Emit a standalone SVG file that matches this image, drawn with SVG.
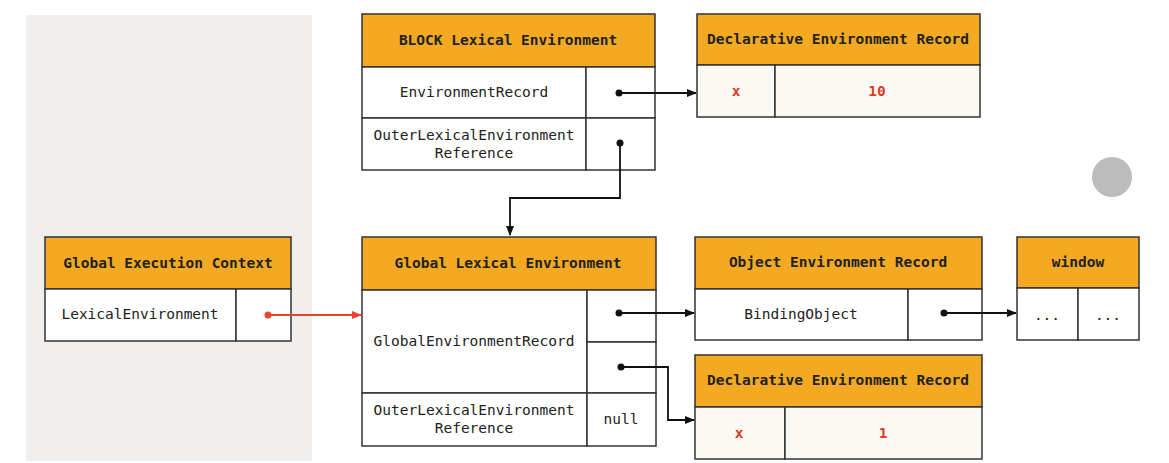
<svg xmlns="http://www.w3.org/2000/svg" width="1169" height="463" viewBox="0 0 1169 463">
<defs>
<style>
.hd{fill:#f3a922;stroke:#333;stroke-width:1.5}
.cell{fill:#fff;stroke:#333;stroke-width:1.5}
.cellc{fill:#fbf9f4;stroke:#333;stroke-width:1.5}
.ht{font-family:"DejaVu Sans Mono",monospace;font-size:14.5px;font-weight:bold;fill:#222;text-anchor:middle}
.t{font-family:"DejaVu Sans Mono",monospace;font-size:14.5px;fill:#222;text-anchor:middle}
.r{font-family:"DejaVu Sans Mono",monospace;font-size:14.5px;font-weight:bold;fill:#e03a26;text-anchor:middle}
.ln{fill:none;stroke:#111;stroke-width:1.8}
.lr{fill:none;stroke:#e8442c;stroke-width:1.8}
</style>
<marker id="ah" markerWidth="10" markerHeight="8" refX="9" refY="4" orient="auto" markerUnits="userSpaceOnUse"><path d="M0,0 L10,4 L0,8 z" fill="#111"/></marker>
<marker id="ahr" markerWidth="10" markerHeight="8" refX="9" refY="4" orient="auto" markerUnits="userSpaceOnUse"><path d="M0,0 L10,4 L0,8 z" fill="#e8442c"/></marker>
</defs>
<rect x="0" y="0" width="1169" height="463" fill="#fff"/>
<rect x="26" y="15" width="286" height="446" fill="#f0efed"/>
<circle cx="1112" cy="177" r="20" fill="#bcbcbc"/>

<g id="block-le">
<rect class="hd" x="362" y="14" width="293" height="53"/>
<text class="ht" x="508" y="45">BLOCK Lexical Environment</text>
<rect class="cell" x="362" y="67" width="224" height="51"/>
<rect class="cell" x="586" y="67" width="69" height="51"/>
<text class="t" x="474" y="97">EnvironmentRecord</text>
<rect class="cell" x="362" y="118" width="224" height="52"/>
<rect class="cell" x="586" y="118" width="69" height="52"/>
<text class="t" x="474" y="140">OuterLexicalEnvironment</text>
<text class="t" x="474" y="158">Reference</text>
</g>

<g id="decl-er-top">
<rect class="hd" x="697" y="14" width="283" height="51"/>
<text class="ht" x="838" y="44">Declarative Environment Record</text>
<rect class="cellc" x="697" y="65" width="78" height="52"/>
<rect class="cellc" x="775" y="65" width="205" height="52"/>
<text class="r" x="736" y="96">x</text>
<text class="r" x="877" y="96">10</text>
</g>

<g id="gec">
<rect class="hd" x="45" y="237" width="246" height="52"/>
<text class="ht" x="168" y="268">Global Execution Context</text>
<rect class="cell" x="45" y="289" width="191" height="52"/>
<rect class="cell" x="236" y="289" width="55" height="52"/>
<text class="t" x="140" y="319">LexicalEnvironment</text>
</g>

<g id="global-le">
<rect class="hd" x="362" y="237" width="294" height="53"/>
<text class="ht" x="508" y="268">Global Lexical Environment</text>
<rect class="cell" x="362" y="290" width="225" height="103"/>
<rect class="cell" x="587" y="290" width="69" height="52"/>
<rect class="cell" x="587" y="342" width="69" height="51"/>
<text class="t" x="474" y="346">GlobalEnvironmentRecord</text>
<rect class="cell" x="362" y="393" width="225" height="53"/>
<rect class="cell" x="587" y="393" width="69" height="53"/>
<text class="t" x="474" y="415">OuterLexicalEnvironment</text>
<text class="t" x="474" y="433">Reference</text>
<text class="t" x="621" y="424">null</text>
</g>

<g id="object-er">
<rect class="hd" x="695" y="237" width="287" height="52"/>
<text class="ht" x="838" y="267">Object Environment Record</text>
<rect class="cell" x="695" y="289" width="213" height="51"/>
<rect class="cell" x="908" y="289" width="74" height="51"/>
<text class="t" x="801" y="319">BindingObject</text>
</g>

<g id="window">
<rect class="hd" x="1017" y="237" width="122" height="51"/>
<text class="ht" x="1078" y="267">window</text>
<rect class="cell" x="1017" y="288" width="61" height="52"/>
<rect class="cell" x="1078" y="288" width="61" height="52"/>
<text class="t" x="1047" y="320">...</text>
<text class="t" x="1108" y="320">...</text>
</g>

<g id="decl-er-bottom">
<rect class="hd" x="695" y="355" width="287" height="52"/>
<text class="ht" x="838" y="385">Declarative Environment Record</text>
<rect class="cellc" x="695" y="407" width="90" height="52"/>
<rect class="cellc" x="785" y="407" width="197" height="52"/>
<text class="r" x="739" y="438">x</text>
<text class="r" x="883" y="438">1</text>
</g>

<g id="connectors">
<circle cx="619" cy="93" r="3.5" fill="#111"/>
<path class="ln" d="M619,93 H696" marker-end="url(#ah)"/>
<circle cx="620" cy="143" r="3.5" fill="#111"/>
<path class="ln" d="M620,143 V198 H510 V235" marker-end="url(#ah)"/>
<circle cx="268" cy="315" r="3.5" fill="#e8442c"/>
<path class="lr" d="M268,315 H361" marker-end="url(#ahr)"/>
<circle cx="619" cy="313" r="3.5" fill="#111"/>
<path class="ln" d="M619,313 H694" marker-end="url(#ah)"/>
<circle cx="621" cy="367" r="3.5" fill="#111"/>
<path class="ln" d="M621,367 H668 V420 H694" marker-end="url(#ah)"/>
<circle cx="944" cy="313" r="3.5" fill="#111"/>
<path class="ln" d="M944,313 H1016" marker-end="url(#ah)"/>
</g>
</svg>
